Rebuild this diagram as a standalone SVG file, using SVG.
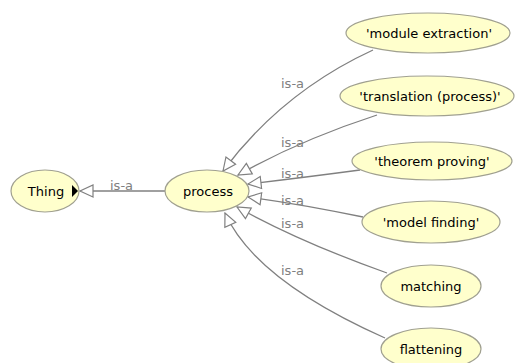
<svg xmlns="http://www.w3.org/2000/svg" width="515" height="363" viewBox="0 0 515 363">
<style>
.node ellipse{fill:#ffffcc;stroke:#a0a090;stroke-width:1.2}
.node text{font-family:"DejaVu Sans",sans-serif;font-size:13px;fill:#000;text-anchor:middle}
.edge{fill:none;stroke:#808080;stroke-width:1.3;marker-end:url(#hollow)}
.lbl{font-family:"DejaVu Sans",sans-serif;font-size:13px;fill:#808080}
</style>
<defs>
<marker id="hollow" markerUnits="userSpaceOnUse" markerWidth="16" markerHeight="16" refX="13" refY="6" orient="auto" viewBox="-1 -1 16 14">
<path d="M0,0 L13,6 L0,12 z" fill="#fff" stroke="#808080" stroke-width="1.2"/>
</marker>
</defs>
<rect width="515" height="363" fill="#fff"/>
<g id="connectors">
<path class="edge" d="M165,191 L80,191"/>
<text class="lbl" x="110" y="190">is-a</text>
<path class="edge" d="M373,50 Q282,92 223,171"/>
<text class="lbl" x="281" y="88">is-a</text>
<path class="edge" d="M377,115 Q300,140 238,175"/>
<text class="lbl" x="281" y="147">is-a</text>
<path class="edge" d="M360,170 Q300,178 248,184"/>
<text class="lbl" x="281" y="178">is-a</text>
<path class="edge" d="M363,217 Q300,204 248,197"/>
<text class="lbl" x="281" y="205">is-a</text>
<path class="edge" d="M387,273 Q300,242 237,207"/>
<text class="lbl" x="281" y="228">is-a</text>
<path class="edge" d="M385,338 Q255,280 225,213"/>
<text class="lbl" x="281" y="275">is-a</text>
</g>
<g id="node-thing" class="node">
<ellipse cx="45" cy="191" rx="34" ry="21"/>
<text x="46" y="196">Thing</text>
<polygon points="72,185 78,191 72,197" fill="#000"/>
</g>
<g id="node-process" class="node">
<ellipse cx="207" cy="191" rx="42" ry="21"/>
<text x="208" y="196">process</text>
</g>
<g id="node-module-extraction" class="node">
<ellipse cx="428" cy="33" rx="82" ry="20"/>
<text x="429" y="38">'module extraction'</text>
</g>
<g id="node-translation" class="node">
<ellipse cx="427" cy="96" rx="87" ry="20"/>
<text x="430" y="101">'translation (process)'</text>
</g>
<g id="node-theorem-proving" class="node">
<ellipse cx="432" cy="161" rx="80" ry="19"/>
<text x="432" y="166">'theorem proving'</text>
</g>
<g id="node-model-finding" class="node">
<ellipse cx="431" cy="222" rx="69" ry="21"/>
<text x="431" y="227">'model finding'</text>
</g>
<g id="node-matching" class="node">
<ellipse cx="431" cy="286" rx="50" ry="21"/>
<text x="431" y="291">matching</text>
</g>
<g id="node-flattening" class="node">
<ellipse cx="431" cy="349" rx="50" ry="21"/>
<text x="431" y="354">flattening</text>
</g>
</svg>
